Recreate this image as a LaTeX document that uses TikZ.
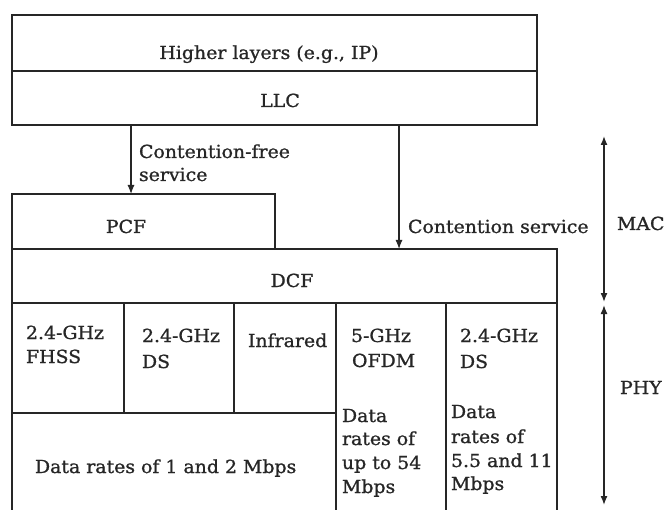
\documentclass[tikz,border=0pt]{standalone}
\usepackage{fontspec}
\setmainfont[FakeStretch=1.05, FakeBold=1]{DejaVu Serif}
\usetikzlibrary{arrows.meta}
\definecolor{ink}{HTML}{262626}
\tikzset{
  box/.style={draw=ink, line width=1.5pt, inner sep=0pt, outer sep=0pt, anchor=north west},
  txt/.style={inner sep=0pt, outer sep=0pt, text=ink, font=\fontsize{18}{25}\selectfont, anchor=base},
  ltxt/.style={txt, anchor=base west},
  wire/.style={draw=ink, line width=1.5pt},
  arr/.style={draw=ink, line width=1.2pt, -{Latex[length=9pt,width=7pt]}},
  dimarr/.style={draw=ink, line width=1.4pt, {Latex[length=9pt,width=7pt]}-{Latex[length=9pt,width=7pt]}}
}
\begin{document}
\begin{tikzpicture}[x=1pt,y=-1pt]
\useasboundingbox (0,0) rectangle (668,510);
\fill[white] (0,0) rectangle (668,510);

% upper stack
\node[box, minimum width=525pt, minimum height=56pt] (hl) at (12,15) {};
\node[box, minimum width=525pt, minimum height=54pt] (llc) at (12,71) {};
\node[txt] (hlt) at (269,59) {Higher layers (e.g., IP)};
\node[txt] (llct) at (280,107) {LLC};

% MAC sublayers
\node[box, minimum width=263pt, minimum height=55pt] (pcf) at (12,194) {};
\node[box, minimum width=545pt, minimum height=54pt] (dcf) at (12,249) {};
\node[txt] (pcft) at (126,233) {PCF};
\node[txt] (dcft) at (292,287) {DCF};

% service arrows
\coordinate (cfx) at (131,0);
\coordinate (csx) at (399,0);
\draw[arr] (cfx |- llc.south) -- (cfx |- pcf.north);
\draw[arr] (csx |- llc.south) -- (csx |- dcf.north);
\node[ltxt] (cft1) at (139,158) {Contention-free};
\node[ltxt] (cft2) at (139,181) {service};
\node[ltxt] (cst) at (408,233) {Contention service};

% PHY cells
\node[box, minimum width=112pt, minimum height=110pt] (fhss) at (12,303) {};
\node[box, minimum width=110pt, minimum height=110pt] (ds) at (124,303) {};
\node[box, minimum width=102pt, minimum height=110pt] (ir) at (234,303) {};
\coordinate (bot) at (0,513);
\draw[wire] (fhss.south west) -- (fhss.south west |- bot);
\draw[wire] (ir.north east) -- (ir.north east |- bot);
\draw[wire] (446,303) -- (446,513);
\draw[wire] (dcf.south east) -- (dcf.south east |- bot);

\node[ltxt] (fhss1) at (26,339) {2.4-GHz};
\node[ltxt] (fhss2) at (26,363) {FHSS};
\node[ltxt] (ds1) at (142,342) {2.4-GHz};
\node[ltxt] (ds2) at (142,368) {DS};
\node[ltxt] (irt) at (248,347) {Infrared};
\node[ltxt] (ofdm1) at (351,342) {5-GHz};
\node[ltxt] (ofdm2) at (352,367) {OFDM};
\node[ltxt] (dsb1) at (460,342) {2.4-GHz};
\node[ltxt] (dsb2) at (460,368) {DS};
\node[ltxt] (ra1) at (342,422) {Data};
\node[ltxt] (ra2) at (342,445) {rates of};
\node[ltxt] (ra3) at (342,469) {up to 54};
\node[ltxt] (ra4) at (342,493) {Mbps};
\node[ltxt] (rb1) at (451,418) {Data};
\node[ltxt] (rb2) at (451,443) {rates of};
\node[ltxt] (rb3) at (451,467) {5.5 and 11};
\node[ltxt] (rb4) at (451,490) {Mbps};
\node[ltxt] (rc) at (35,473) {Data rates of 1 and 2 Mbps};

% layer extents
\coordinate (mactop) at (604,136);
\coordinate (phytop) at (604,305);
\coordinate (phybot) at (604,505);
\draw[dimarr] (mactop) -- ([yshift=1pt]mactop |- dcf.south);
\draw[dimarr] (phytop) -- (phybot);
\node[ltxt] (mact) at (617,230) {MAC};
\node[ltxt] (phyt) at (620,394) {PHY};
\end{tikzpicture}
\end{document}
